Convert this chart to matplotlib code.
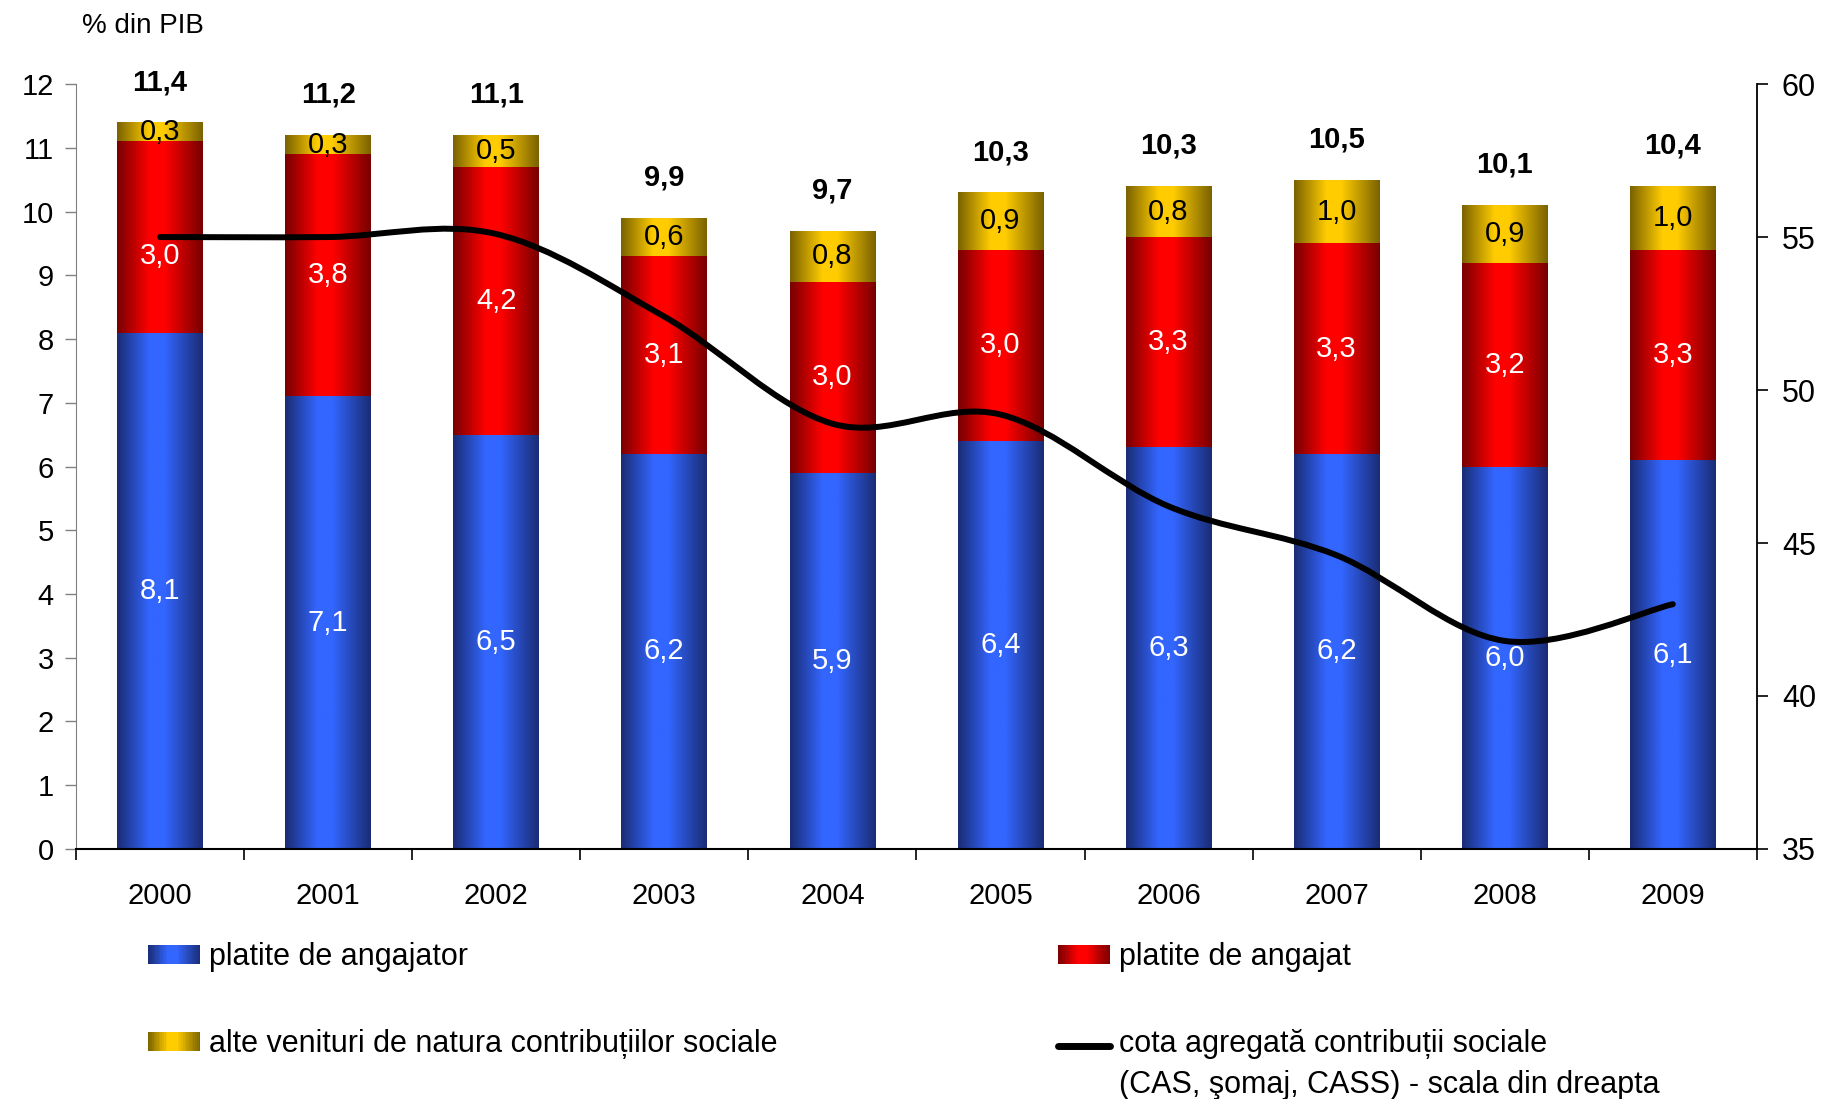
import numpy as np
import matplotlib.pyplot as plt
from matplotlib.colors import LinearSegmentedColormap
from matplotlib.path import Path
from matplotlib.patches import PathPatch, Patch, Rectangle
from matplotlib.lines import Line2D
from matplotlib.legend_handler import HandlerBase

plt.rcParams['font.family'] = ['Liberation Sans', 'DejaVu Sans']

# date (% din PIB)
ani = ['2000', '2001', '2002', '2003', '2004', '2005', '2006', '2007', '2008', '2009']
angajator = [8.1, 7.1, 6.5, 6.2, 5.9, 6.4, 6.3, 6.2, 6.0, 6.1]
angajat = [3.0, 3.8, 4.2, 3.1, 3.0, 3.0, 3.3, 3.3, 3.2, 3.3]
alte = [0.3, 0.3, 0.5, 0.6, 0.8, 0.9, 0.8, 1.0, 0.9, 1.0]
total = [11.4, 11.2, 11.1, 9.9, 9.7, 10.3, 10.3, 10.5, 10.1, 10.4]
cota = [55.0, 55.0, 55.1, 52.4, 48.9, 49.2, 46.2, 44.6, 41.8, 43.0]

etichete = ['platite de angajator', 'alte venituri de natura contribuțiilor sociale',
            'platite de angajat',
            'cota agregată contribuții sociale\n(CAS, şomaj, CASS) - scala din dreapta']

fs = 21
profil_x = [0, 0.38, 0.55, 1]
profil_v = [0, 1, 1, 0]

cm_albastru = LinearSegmentedColormap.from_list('a', ['#1a2c74', '#3366ff'])
cm_rosu = LinearSegmentedColormap.from_list('r', ['#780000', '#ff0000'])
cm_galben = LinearSegmentedColormap.from_list('g', ['#7a6200', '#ffcc00'])


def virgula(v):
    return f'{v:.1f}'.replace('.', ',')


def gradient(ax, bars, cmap):
    t = np.linspace(0, 1, 200)
    prof = np.interp(t, profil_x, profil_v).reshape(1, -1)
    for b in bars:
        x0, y0 = b.get_xy()
        im = ax.imshow(prof, extent=[x0, x0 + b.get_width(), y0, y0 + b.get_height()],
                       aspect='auto', cmap=cmap, vmin=0, vmax=1, zorder=2.1,
                       interpolation='bilinear')
        im.set_clip_path(b)


def smooth_path(x, y):
    pts = np.column_stack([x, y]).astype(float)
    verts = [pts[0]]
    codes = [Path.MOVETO]
    n = len(pts)
    for i in range(n - 1):
        p0 = pts[max(i - 1, 0)]
        p1 = pts[i]
        p2 = pts[i + 1]
        p3 = pts[min(i + 2, n - 1)]
        verts += [p1 + (p2 - p0) / 6, p2 - (p3 - p1) / 6, p2]
        codes += [Path.CURVE4] * 3
    return Path(verts, codes)


class HandlerGradient(HandlerBase):
    def __init__(self, cmap, hfrac=0.6):
        super().__init__()
        self.cmap = cmap
        self.hfrac = hfrac

    def create_artists(self, legend, orig_handle, xdescent, ydescent, width, height,
                       fontsize, trans):
        n = 30
        out = []
        for k in range(n):
            c = self.cmap(np.interp((k + 0.5) / n, profil_x, profil_v))
            r = Rectangle((-xdescent + width * k / n, -ydescent), width / n * 1.05, height,
                          facecolor=c, edgecolor='none', transform=trans)
            out.append(r)
        return out


class HandlerLiniaSus(HandlerBase):
    def __init__(self, shift):
        super().__init__()
        self.shift = shift

    def create_artists(self, legend, orig_handle, xdescent, ydescent, width, height,
                       fontsize, trans):
        y = (height - ydescent) / 2 + self.shift
        ln = Line2D([-xdescent, width - xdescent], [y, y], color='black', lw=5,
                    solid_capstyle='round', transform=trans)
        return [ln]


fig = plt.figure(figsize=(18.31, 10.99), dpi=100)
ax = fig.add_axes([0.0415, 0.2275, 0.918, 0.696])

x = np.arange(len(ani))
w = 0.51
b1 = ax.bar(x, angajator, w, color='#3366ff', zorder=2)
b2 = ax.bar(x, angajat, w, bottom=angajator, color='#ff0000', zorder=2)
baza3 = np.array(angajator) + np.array(angajat)
b3 = ax.bar(x, alte, w, bottom=baza3, color='#ffcc00', zorder=2)

gradient(ax, b1, cm_albastru)
gradient(ax, b2, cm_rosu)
gradient(ax, b3, cm_galben)

for i in range(len(ani)):
    ax.text(x[i], angajator[i] / 2, virgula(angajator[i]), ha='center', va='center',
            color='white', fontsize=fs, zorder=5)
    # eticheta din 2000 e mutata putin mai jos ca sa nu o taie linia
    dy = -14 if i == 0 else 0
    ax.annotate(virgula(angajat[i]), (x[i], angajator[i] + angajat[i] / 2), xytext=(0, dy),
                textcoords='offset points', ha='center', va='center',
                color='white', fontsize=fs, zorder=5)
    ax.text(x[i], baza3[i] + alte[i] / 2, virgula(alte[i]), ha='center', va='center',
            color='black', fontsize=fs, zorder=5)
    ax.annotate(virgula(total[i]), (x[i], baza3[i] + alte[i]), xytext=(0, 29),
                textcoords='offset points', ha='center', va='center',
                fontsize=fs, fontweight='bold')

ax.set_xlim(-0.5, len(ani) - 0.5)
ax.set_ylim(0, 12)
ax.set_yticks(range(0, 13))
ax.set_xticks(x)
ax.set_xticklabels(ani)
ax.set_xticks(np.arange(-0.5, len(ani)), minor=True)
ax.tick_params(axis='x', which='major', length=0, pad=24, labelsize=fs)
ax.tick_params(axis='x', which='minor', length=8, width=1.2, direction='out')
ax.tick_params(axis='y', length=8, width=1, labelsize=fs, pad=8, color='#808080')
ax.spines['top'].set_visible(False)
ax.spines['right'].set_visible(False)
ax.spines['left'].set_color('#808080')
ax.spines['bottom'].set_linewidth(1.5)

ax2 = ax.twinx()
ax2.set_ylim(35, 60)
ax2.set_yticks(range(35, 61, 5))
ax2.tick_params(axis='y', length=8, width=1.2, labelsize=fs + 1, pad=10)
ax2.spines['top'].set_visible(False)
ax2.spines['left'].set_visible(False)
ax2.spines['bottom'].set_visible(False)
ax2.spines['right'].set_linewidth(1.3)
ax2.add_patch(PathPatch(smooth_path(x, cota), facecolor='none', edgecolor='black',
                        lw=4.3, capstyle='round', joinstyle='round', zorder=3))
ax2.set_xlim(-0.5, len(ani) - 0.5)

fig.text(0.0448, 0.976, '% din PIB', fontsize=fs - 1, va='center', ha='left')

h_blue = Patch(facecolor='#2a4fd0', edgecolor='none')
h_gold = Patch(facecolor='#c9a000', edgecolor='none')
h_red = Patch(facecolor='#d00000', edgecolor='none')
h_line = Line2D([], [], color='black', lw=4)
harta = {h_blue: HandlerGradient(cm_albastru), h_gold: HandlerGradient(cm_galben),
         h_red: HandlerGradient(cm_rosu), h_line: HandlerLiniaSus(14.5)}

kw = dict(frameon=False, fontsize=fs + 1, handlelength=1.7, handleheight=0.6,
          handletextpad=0.3, labelspacing=1.86, borderpad=0, borderaxespad=0,
          loc='upper left', handler_map=harta)
fig.legend([h_blue, h_gold], etichete[:2], bbox_to_anchor=(0.081, 0.1425), **kw)
leg2 = fig.legend([h_red, h_line], etichete[2:], bbox_to_anchor=(0.578, 0.1425), **kw)
leg2.get_texts()[1].set_linespacing(1.46)

fig.savefig('out.png', dpi=100)
